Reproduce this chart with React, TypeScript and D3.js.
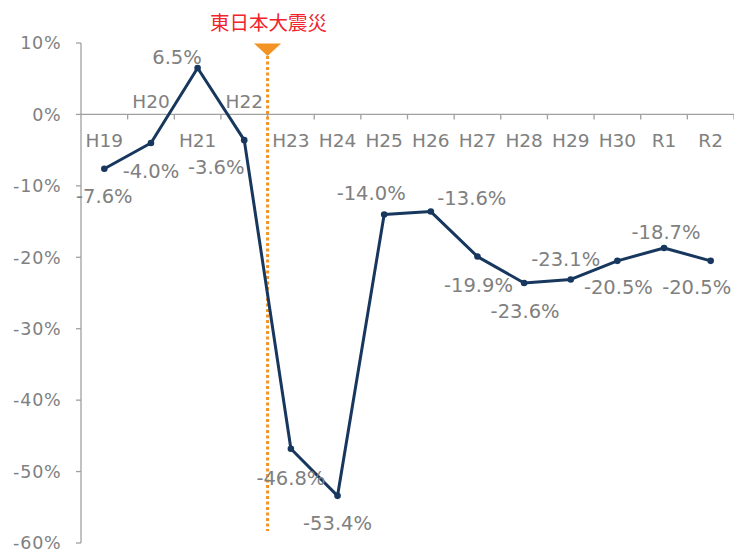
import React from "react";
import * as d3 from "d3";

const categories = ["H19", "H20", "H21", "H22", "H23", "H24", "H25", "H26", "H27", "H28", "H29", "H30", "R1", "R2"];
const values = [-7.6, -4.0, 6.5, -3.6, -46.8, -53.4, -14.0, -13.6, -19.9, -23.6, -23.1, -20.5, -18.7, -20.5];
const yTicks = [10, 0, -10, -20, -30, -40, -50, -60];
const eventLabel = "東日本大震災";
const eventCategory = "H23";

// layout: label offsets (dx, dy) relative to points, category label above flags
const labelOffsets: [number, number][] = [
  [0, 27], [0, 27.5], [-20.6, -11.5], [-28, 27], [0, 29.5], [0, 27], [-13, -21],
  [41, -14], [1, 28], [1, 28], [-5, -20], [1, 26.5], [2, -16], [-14, 26.5],
];
const catAbove = [false, true, false, true, false, false, false, false, false, false, false, false, false, false];

const W = 734, H = 552;
const left = 81, right = 734, top = 43, bottom = 543;
const gray = "#808080";
const axisColor = "#a0a0a0";
const navy = "#17375e";
const orange = "#f39323";
const font = "'DejaVu Sans', Verdana, sans-serif";

export default function App() {
  const x = d3.scaleBand<string>().domain(categories).range([left, right]).paddingInner(0).paddingOuter(0);
  const y = d3.scaleLinear().domain([-60, 10]).range([bottom, top]);
  const bw = x.bandwidth();
  const cx = (c: string) => (x(c) as number) + bw / 2;
  const line = d3.line<number>().x((_, i) => cx(categories[i])).y((v) => y(v));
  const y0 = y(0);
  const ex = x(eventCategory) as number;
  const fmt = (v: number) => v.toFixed(1) + "%";

  return (
    <svg width={W} height={H} style={{ position: "absolute", left: 0, top: 0, background: "#fff" }} fontFamily={font}>
      {/* y axis */}
      <line x1={left} x2={left} y1={top} y2={bottom} stroke={axisColor} strokeWidth={1.3} />
      {yTicks.map((t) => (
        <g key={t}>
          <line x1={left - 5} x2={left} y1={y(t)} y2={y(t)} stroke={axisColor} strokeWidth={1.3} />
          <text x={61.5} y={y(t)} dy="0.36em" textAnchor="end" fontSize={17.5} letterSpacing={0.8} fill={gray}>
            {t}%
          </text>
        </g>
      ))}
      {/* x axis at 0 */}
      <line x1={left} x2={right} y1={y0} y2={y0} stroke={axisColor} strokeWidth={1.3} />
      {categories.map((c) => (
        <line key={c} x1={(x(c) as number) + bw} x2={(x(c) as number) + bw} y1={y0} y2={y0 + 5} stroke={axisColor} strokeWidth={1.3} />
      ))}
      {categories.map((c, i) => (
        <text key={c} x={cx(c)} y={catAbove[i] ? 101.5 : 140} dy="0.36em" textAnchor="middle" fontSize={18.5} fill={gray}>
          {c}
        </text>
      ))}
      {/* event marker */}
      <line x1={ex} x2={ex} y1={56} y2={531} stroke={orange} strokeWidth={3} strokeDasharray="3 2.5" />
      <path d={`M${ex - 13.5},43.5 L${ex + 13.5},43.5 L${ex},56 Z`} fill={orange} />
      <text x={ex + 1} y={23} dy="0.36em" textAnchor="middle" fontSize={19.5} fill="#f0242a" fontFamily="'Noto Sans CJK JP', sans-serif">
        {eventLabel}
      </text>
      {/* series */}
      <path d={line(values) || ""} fill="none" stroke={navy} strokeWidth={3} strokeLinejoin="round" />
      {values.map((v, i) => (
        <circle key={i} cx={cx(categories[i])} cy={y(v)} r={3.3} fill={navy} />
      ))}
      {values.map((v, i) => (
        <text key={"l" + i} x={cx(categories[i]) + labelOffsets[i][0]} y={y(v) + labelOffsets[i][1]} dy="0.36em" textAnchor="middle" fontSize={19.5} fill={gray}>
          {fmt(v)}
        </text>
      ))}
    </svg>
  );
}
